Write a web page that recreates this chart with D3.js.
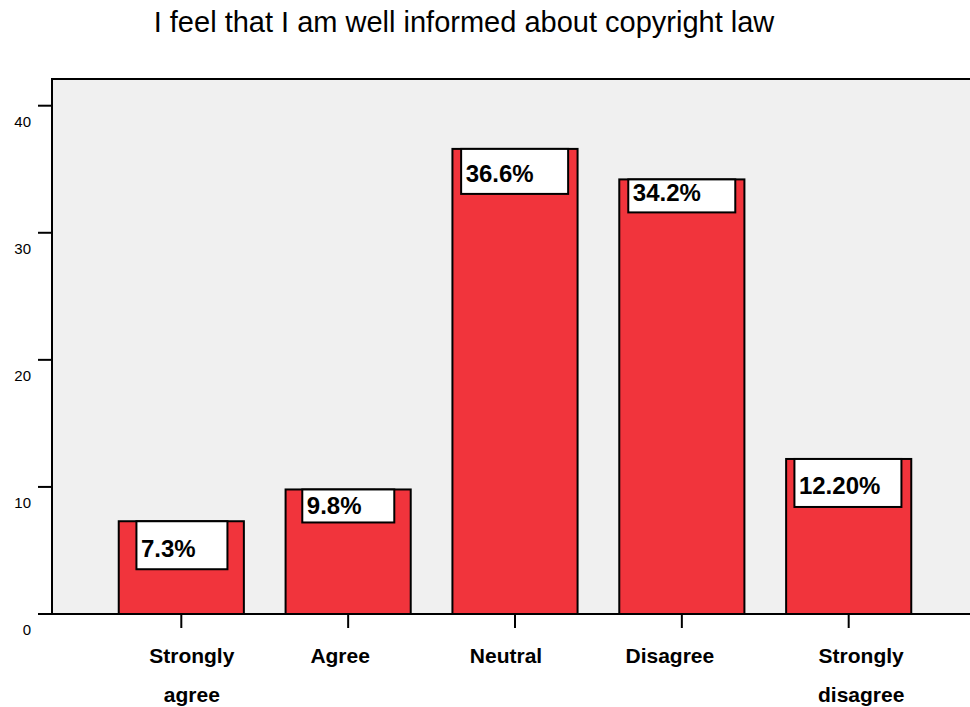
<!DOCTYPE html>
<html>
<head>
<meta charset="utf-8">
<script src="https://cdn.jsdelivr.net/npm/d3@7"></script>
<style>
  html, body { margin: 0; padding: 0; background: #ffffff; }
  svg { display: block; font-family: "Liberation Sans", Arial, Helvetica, sans-serif; }
</style>
</head>
<body>
<svg id="chart" width="970" height="707"></svg>
<script>
// ---- data ----
const title = "I feel that I am well informed about copyright law";
const categories = ["Strongly agree", "Agree", "Neutral", "Disagree", "Strongly disagree"];
const categoryLines = [["Strongly", "agree"], ["Agree"], ["Neutral"], ["Disagree"], ["Strongly", "disagree"]];
const percentValues = [7.3, 9.8, 36.6, 34.2, 12.2];
const valueLabels = ["7.3%", "9.8%", "36.6%", "34.2%", "12.20%"];
const yTickValues = [0, 10, 20, 30, 40];

// ---- layout (not data) ----
const plot = { left: 52, top: 79, right: 978, bottom: 614 };
const boxLayout = [
  { dx: 17.7, w: 91, h: 48, ty: 36 },
  { dx: 16.7, w: 92, h: 33, ty: 25 },
  { dx: 8.7, w: 107, h: 45, ty: 33 },
  { dx: 9, w: 107, h: 33, ty: 22 },
  { dx: 8.3, w: 107, h: 48, ty: 35 }
];
const catLabelDx = [10.5, -8, -9, -12, 12.5];
const barColor = "#f1343c";

const svg = d3.select("#chart");

const x = d3.scaleBand()
  .domain(categories)
  .range([plot.left, plot.right])
  .paddingInner(0.25)
  .paddingOuter(0.4);

const y = d3.scaleLinear()
  .domain([0, 40])
  .range([plot.bottom, 105.7]);

// plot background
svg.append("rect")
  .attr("x", plot.left).attr("y", plot.top)
  .attr("width", plot.right - plot.left)
  .attr("height", plot.bottom - plot.top)
  .attr("fill", "#f0f0f0");

// title
svg.append("text")
  .attr("x", 464).attr("y", 32)
  .attr("text-anchor", "middle")
  .attr("font-size", 29)
  .attr("fill", "#000")
  .text(title);

// bars
const data = categories.map((c, i) => ({ c, v: percentValues[i], label: valueLabels[i], i }));

svg.append("g").selectAll("rect")
  .data(data)
  .join("rect")
  .attr("x", d => x(d.c))
  .attr("y", d => y(d.v))
  .attr("width", x.bandwidth())
  .attr("height", d => y(0) - y(d.v))
  .attr("fill", barColor)
  .attr("stroke", "#000")
  .attr("stroke-width", 2);

// value label boxes
const lab = svg.append("g").selectAll("g")
  .data(data)
  .join("g")
  .attr("transform", d => `translate(${x(d.c) + boxLayout[d.i].dx},${y(d.v)})`);

lab.append("rect")
  .attr("x", 0).attr("y", 0)
  .attr("width", d => boxLayout[d.i].w)
  .attr("height", d => boxLayout[d.i].h)
  .attr("fill", "#fff")
  .attr("stroke", "#000")
  .attr("stroke-width", 2);

lab.append("text")
  .attr("x", 4.5)
  .attr("y", d => boxLayout[d.i].ty)
  .attr("font-size", 24)
  .attr("font-weight", "bold")
  .attr("fill", "#000")
  .text(d => d.label);

// frame: top and left borders
svg.append("line")
  .attr("x1", plot.left).attr("x2", plot.right)
  .attr("y1", plot.top).attr("y2", plot.top)
  .attr("stroke", "#000").attr("stroke-width", 2);
svg.append("line")
  .attr("x1", plot.left).attr("x2", plot.left)
  .attr("y1", plot.top - 1).attr("y2", plot.bottom)
  .attr("stroke", "#000").attr("stroke-width", 2);

// y axis ticks and labels
const yg = svg.append("g");
yg.selectAll("line")
  .data(yTickValues)
  .join("line")
  .attr("x1", 38).attr("x2", plot.left)
  .attr("y1", d => y(d)).attr("y2", d => y(d))
  .attr("stroke", "#000").attr("stroke-width", 2);
yg.selectAll("text")
  .data(yTickValues)
  .join("text")
  .attr("x", 31)
  .attr("y", d => y(d) + 21)
  .attr("text-anchor", "end")
  .attr("font-size", 15)
  .attr("fill", "#000")
  .text(d => d);

// x axis baseline
svg.append("line")
  .attr("x1", 38).attr("x2", plot.right)
  .attr("y1", plot.bottom).attr("y2", plot.bottom)
  .attr("stroke", "#000").attr("stroke-width", 2);

// x ticks
const xg = svg.append("g");
xg.selectAll("line")
  .data(categories)
  .join("line")
  .attr("x1", d => x(d) + x.bandwidth() / 2)
  .attr("x2", d => x(d) + x.bandwidth() / 2)
  .attr("y1", plot.bottom).attr("y2", plot.bottom + 14)
  .attr("stroke", "#000").attr("stroke-width", 2);

// category labels
const cl = xg.selectAll("text")
  .data(categories)
  .join("text")
  .attr("text-anchor", "middle")
  .attr("font-size", 21)
  .attr("font-weight", "bold")
  .attr("fill", "#000");
cl.each(function(d, i) {
  const t = d3.select(this);
  const cx = x(d) + x.bandwidth() / 2 + catLabelDx[i];
  categoryLines[i].forEach((line, j) => {
    t.append("tspan")
      .attr("x", cx)
      .attr("y", 663 + j * 38.5)
      .text(line);
  });
});
</script>
</body>
</html>
